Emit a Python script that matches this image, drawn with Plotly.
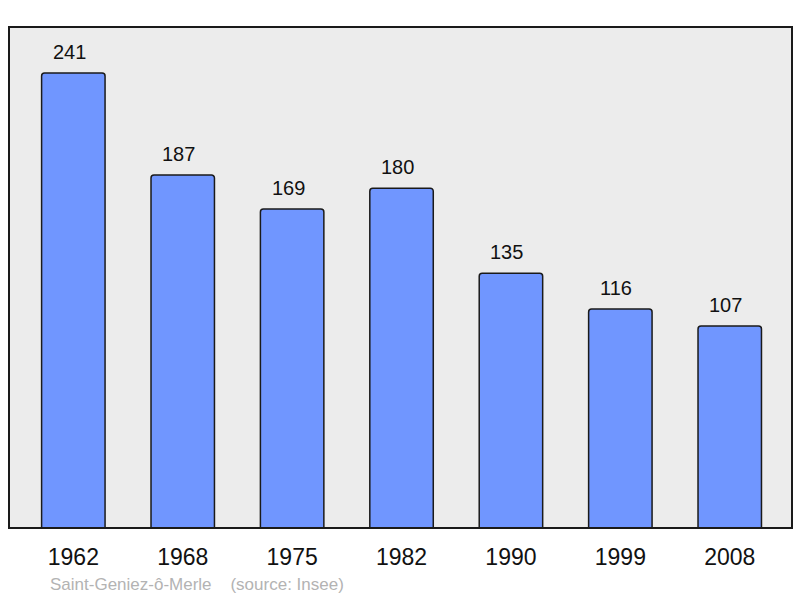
import plotly.graph_objects as go

years = ["1962", "1968", "1975", "1982", "1990", "1999", "2008"]
population = [241, 187, 169, 180, 135, 116, 107]
source_text = "Saint-Geniez-ô-Merle\u00a0\u00a0\u00a0\u00a0(source: Insee)"

FONT = "Liberation Sans, Arial, sans-serif"

fig = go.Figure()
fig.add_trace(go.Bar(
    x=list(range(len(years))), y=population,
    width=0.58,
    marker=dict(color="#7096ff", line=dict(color="#1a1a1a", width=1.5), cornerradius=3),
    hoverinfo="skip",
))

for i, v in enumerate(population):
    fig.add_annotation(x=i, y=v, text=str(v), showarrow=False, yanchor="bottom",
                       yshift=8, xshift=-4, font=dict(size=20, color="#111111", family=FONT))

fig.add_annotation(xref="paper", yref="paper", x=(48-9)/783, y=-(584-528)/501, xanchor="left", yanchor="middle",
                   text=source_text, showarrow=False,
                   font=dict(size=17, color="#b3b3b3", family=FONT))

fig.add_shape(type="rect", xref="paper", yref="paper", x0=0, y0=0, x1=1, y1=1,
              line=dict(color="#1a1a1a", width=2), layer="above")

fig.update_layout(
    width=800, height=598,
    margin=dict(l=9, r=8, t=27, b=70),
    paper_bgcolor="white", plot_bgcolor="#ececec",
    showlegend=False,
    xaxis=dict(range=[-0.588, 6.569], tickmode="array", tickvals=list(range(len(years))), ticktext=years,
               showgrid=False, zeroline=False, ticks="", ticklabelstandoff=13,
               tickfont=dict(size=23, color="#111111", family=FONT)),
    yaxis=dict(range=[0, 265.4], showgrid=False, zeroline=False, showticklabels=False, ticks=""),
)

fig.write_html("out.html", config={"displayModeBar": False},
               post_script="document.body.style.margin='0';document.body.style.overflow='hidden';")
